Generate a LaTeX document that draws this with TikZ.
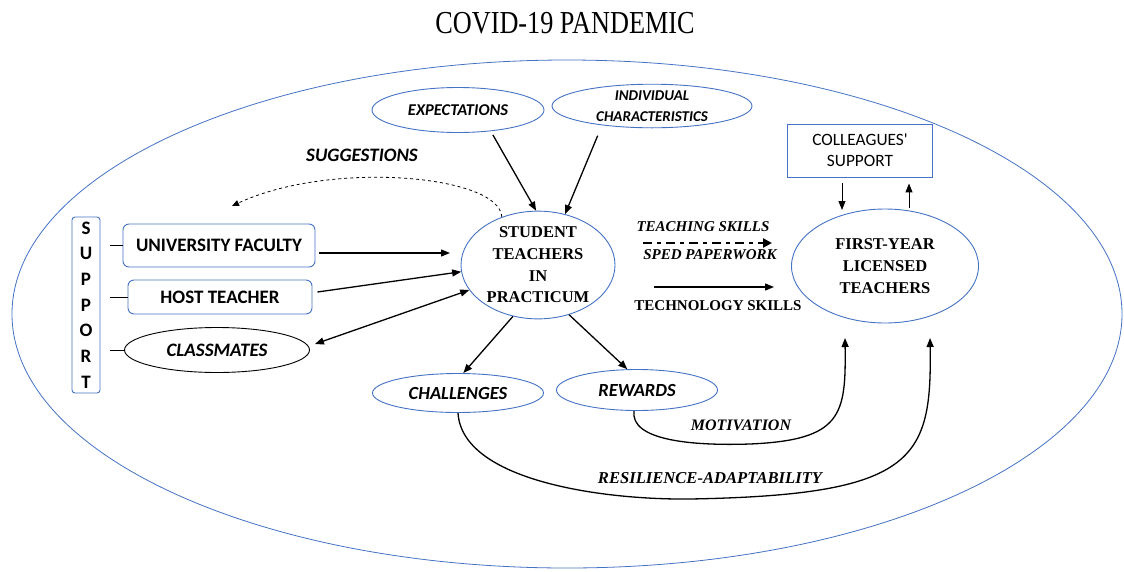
\documentclass[tikz,border=0pt]{standalone}
\usepackage{fontspec}
\setmainfont{Liberation Serif}
\newfontfamily\carl{Carlito}
\usetikzlibrary{arrows.meta,shapes.geometric,calc}
\definecolor{obl}{RGB}{68,114,196}
\tikzset{
  ar/.style={-{Triangle[length=9pt,width=7pt]},line width=1.3pt},
  bell/.style={ellipse,draw=obl,line width=0.9pt,inner sep=0pt},
  rbox/.style={rectangle,rounded corners=6pt,draw=obl,line width=0.9pt,inner sep=0pt},
  sbold/.style={font=\carl\bfseries\fontsize{19}{21}\selectfont},
  sital/.style={font=\carl\bfseries\itshape\fontsize{18.5}{20}\selectfont},
  tital/.style={font=\bfseries\itshape\fontsize{15}{17}\selectfont},
}
\begin{document}
\begin{tikzpicture}[x=1pt,y=-1pt]
\useasboundingbox (0,0) rectangle (1124,571);
% big ellipse
\node[ellipse,draw=obl,line width=0.8pt,minimum width=1110pt,minimum height=508pt,inner sep=0pt] (covid) at (567,314) {};
\node[font=\fontsize{32}{34}\selectfont,xscale=0.82] (title) at (565,23) {COVID-19 PANDEMIC};
% top ellipses
\node[bell,minimum width=172pt,minimum height=45pt,font=\carl\bfseries\itshape\fontsize{16.5}{18}\selectfont] (exp) at (458,110) {EXPECTATIONS};
\node[bell,minimum width=200pt,minimum height=43pt,align=center,font=\carl\bfseries\itshape\fontsize{15}{21}\selectfont] (ind) at (652,106) {INDIVIDUAL\\CHARACTERISTICS};
% student teachers
\node[bell,minimum width=154pt,minimum height=106pt,align=center,font=\bfseries\fontsize{16.5}{21.7}\selectfont] (st) at (538,265) {STUDENT\\TEACHERS\\IN\\PRACTICUM};
% support
\node[rbox,rounded corners=3pt,minimum width=28pt,minimum height=176pt,align=center,font=\carl\bfseries\fontsize{19}{25.7}\selectfont] (sup) at (86,305) {S\\U\\P\\P\\O\\R\\T};
\node[rbox,minimum width=192pt,minimum height=43pt,sbold] (uf) at (219,245.5) {UNIVERSITY FACULTY};
\node[rbox,minimum width=184pt,minimum height=34pt,sbold] (ht) at (220,297) {HOST TEACHER};
\node[ellipse,draw,line width=0.9pt,minimum width=185pt,minimum height=45pt,inner sep=0pt,font=\carl\bfseries\itshape\fontsize{19}{21}\selectfont] (cm) at (217,350) {CLASSMATES};
\draw[line width=0.5pt] (sup.east |- uf.west) ++(10,0) -- (uf.west);
\draw[line width=0.5pt] (sup.east |- ht.west) ++(10,0) -- (ht.west);
\draw[line width=0.5pt] (sup.east |- cm.west) ++(10,0) -- (cm.west);
% suggestions
\node[font=\carl\bfseries\itshape\fontsize{19}{21}\selectfont] (sug) at (362,155) {SUGGESTIONS};
\coordinate (sugend) at (232,206);
\draw[dashed,line width=0.8pt,-{Triangle[length=7pt,width=6pt]}] (st.127) .. controls (500,175) and (330,160) .. (sugend);
% arrows into st
\draw[ar] (319,253) -- (450,253);
\draw[ar] (ht.east) ++(5,-5) -- (st.185);
\draw[{Triangle[length=9pt,width=7pt]}-{Triangle[length=9pt,width=7pt]},line width=1.3pt] (cm.east) ++(5,-6) -- (st.200);
\draw[ar] (exp.-31) ++(0,4) -- (st.92);
\draw[ar] (ind.-161) ++(0,11) -- (st.62);
% challenges & rewards
\node[bell,minimum width=171pt,minimum height=39pt,sital] (chal) at (458,393) {CHALLENGES};
\node[bell,minimum width=161pt,minimum height=41pt,sital] (rew) at (637,390) {REWARDS};
\draw[ar] (st.-116) -- (chal.75);
\draw[ar] (st.-58) -- (rew.115);
% first-year
\node[bell,minimum width=187pt,minimum height=114pt,font=\bfseries\fontsize{16.5}{22}\selectfont,align=center] (fy) at (885,266) {FIRST-YEAR\\LICENSED\\TEACHERS};
\node[tital] (ts) at (703,227) {TEACHING SKILLS};
\node[tital] (sp) at (710,255) {SPED PAPERWORK};
\node[font=\bfseries\fontsize{15}{17}\selectfont] (tech) at (718,306) {TECHNOLOGY SKILLS};
\coordinate (tsend) at (772,243);
\coordinate (techend) at (774,287);
\draw[line width=2.6pt,dash pattern=on 9pt off 5pt on 4pt off 5pt,-{Triangle[length=9pt,width=9pt]}] (st.east |- 0,243) ++(28,0) -- (tsend);
\draw[ar] (st.east |- 0,287) ++(39,0) -- (techend);
% colleagues
\node[rectangle,draw=obl,line width=0.9pt,minimum width=145pt,minimum height=53pt,align=center,font=\carl\fontsize{17.3}{21}\selectfont] (col) at (860,150.5) {COLLEAGUES'\\SUPPORT};
\coordinate (c1) at (842,210);
\coordinate (c2) at (909,208);
\draw[ar,line width=1pt] (col.south -| c1) ++(0,6) -- (c1);
\draw[ar,line width=1pt] (c2) -- ($(col.south -| c2)+(0,6)$);
% motivation & resilience
\coordinate (motend) at (845,338);
\coordinate (resend) at (930,338);
\draw[ar] (rew.262) .. controls (630,440) and (690,446) .. (750,444) .. controls (842,440) and (846,415) .. (motend);
\node[font=\bfseries\itshape\fontsize{16}{18}\selectfont] (mot) at (741,425) {MOTIVATION};
\draw[ar] (chal.-90) .. controls (462,480) and (600,500) .. (690,499) .. controls (915,495) and (932,460) .. (resend);
\node[font=\bfseries\itshape\fontsize{16.6}{18}\selectfont] (res) at (710,478) {RESILIENCE-ADAPTABILITY};
\end{tikzpicture}
\end{document}
